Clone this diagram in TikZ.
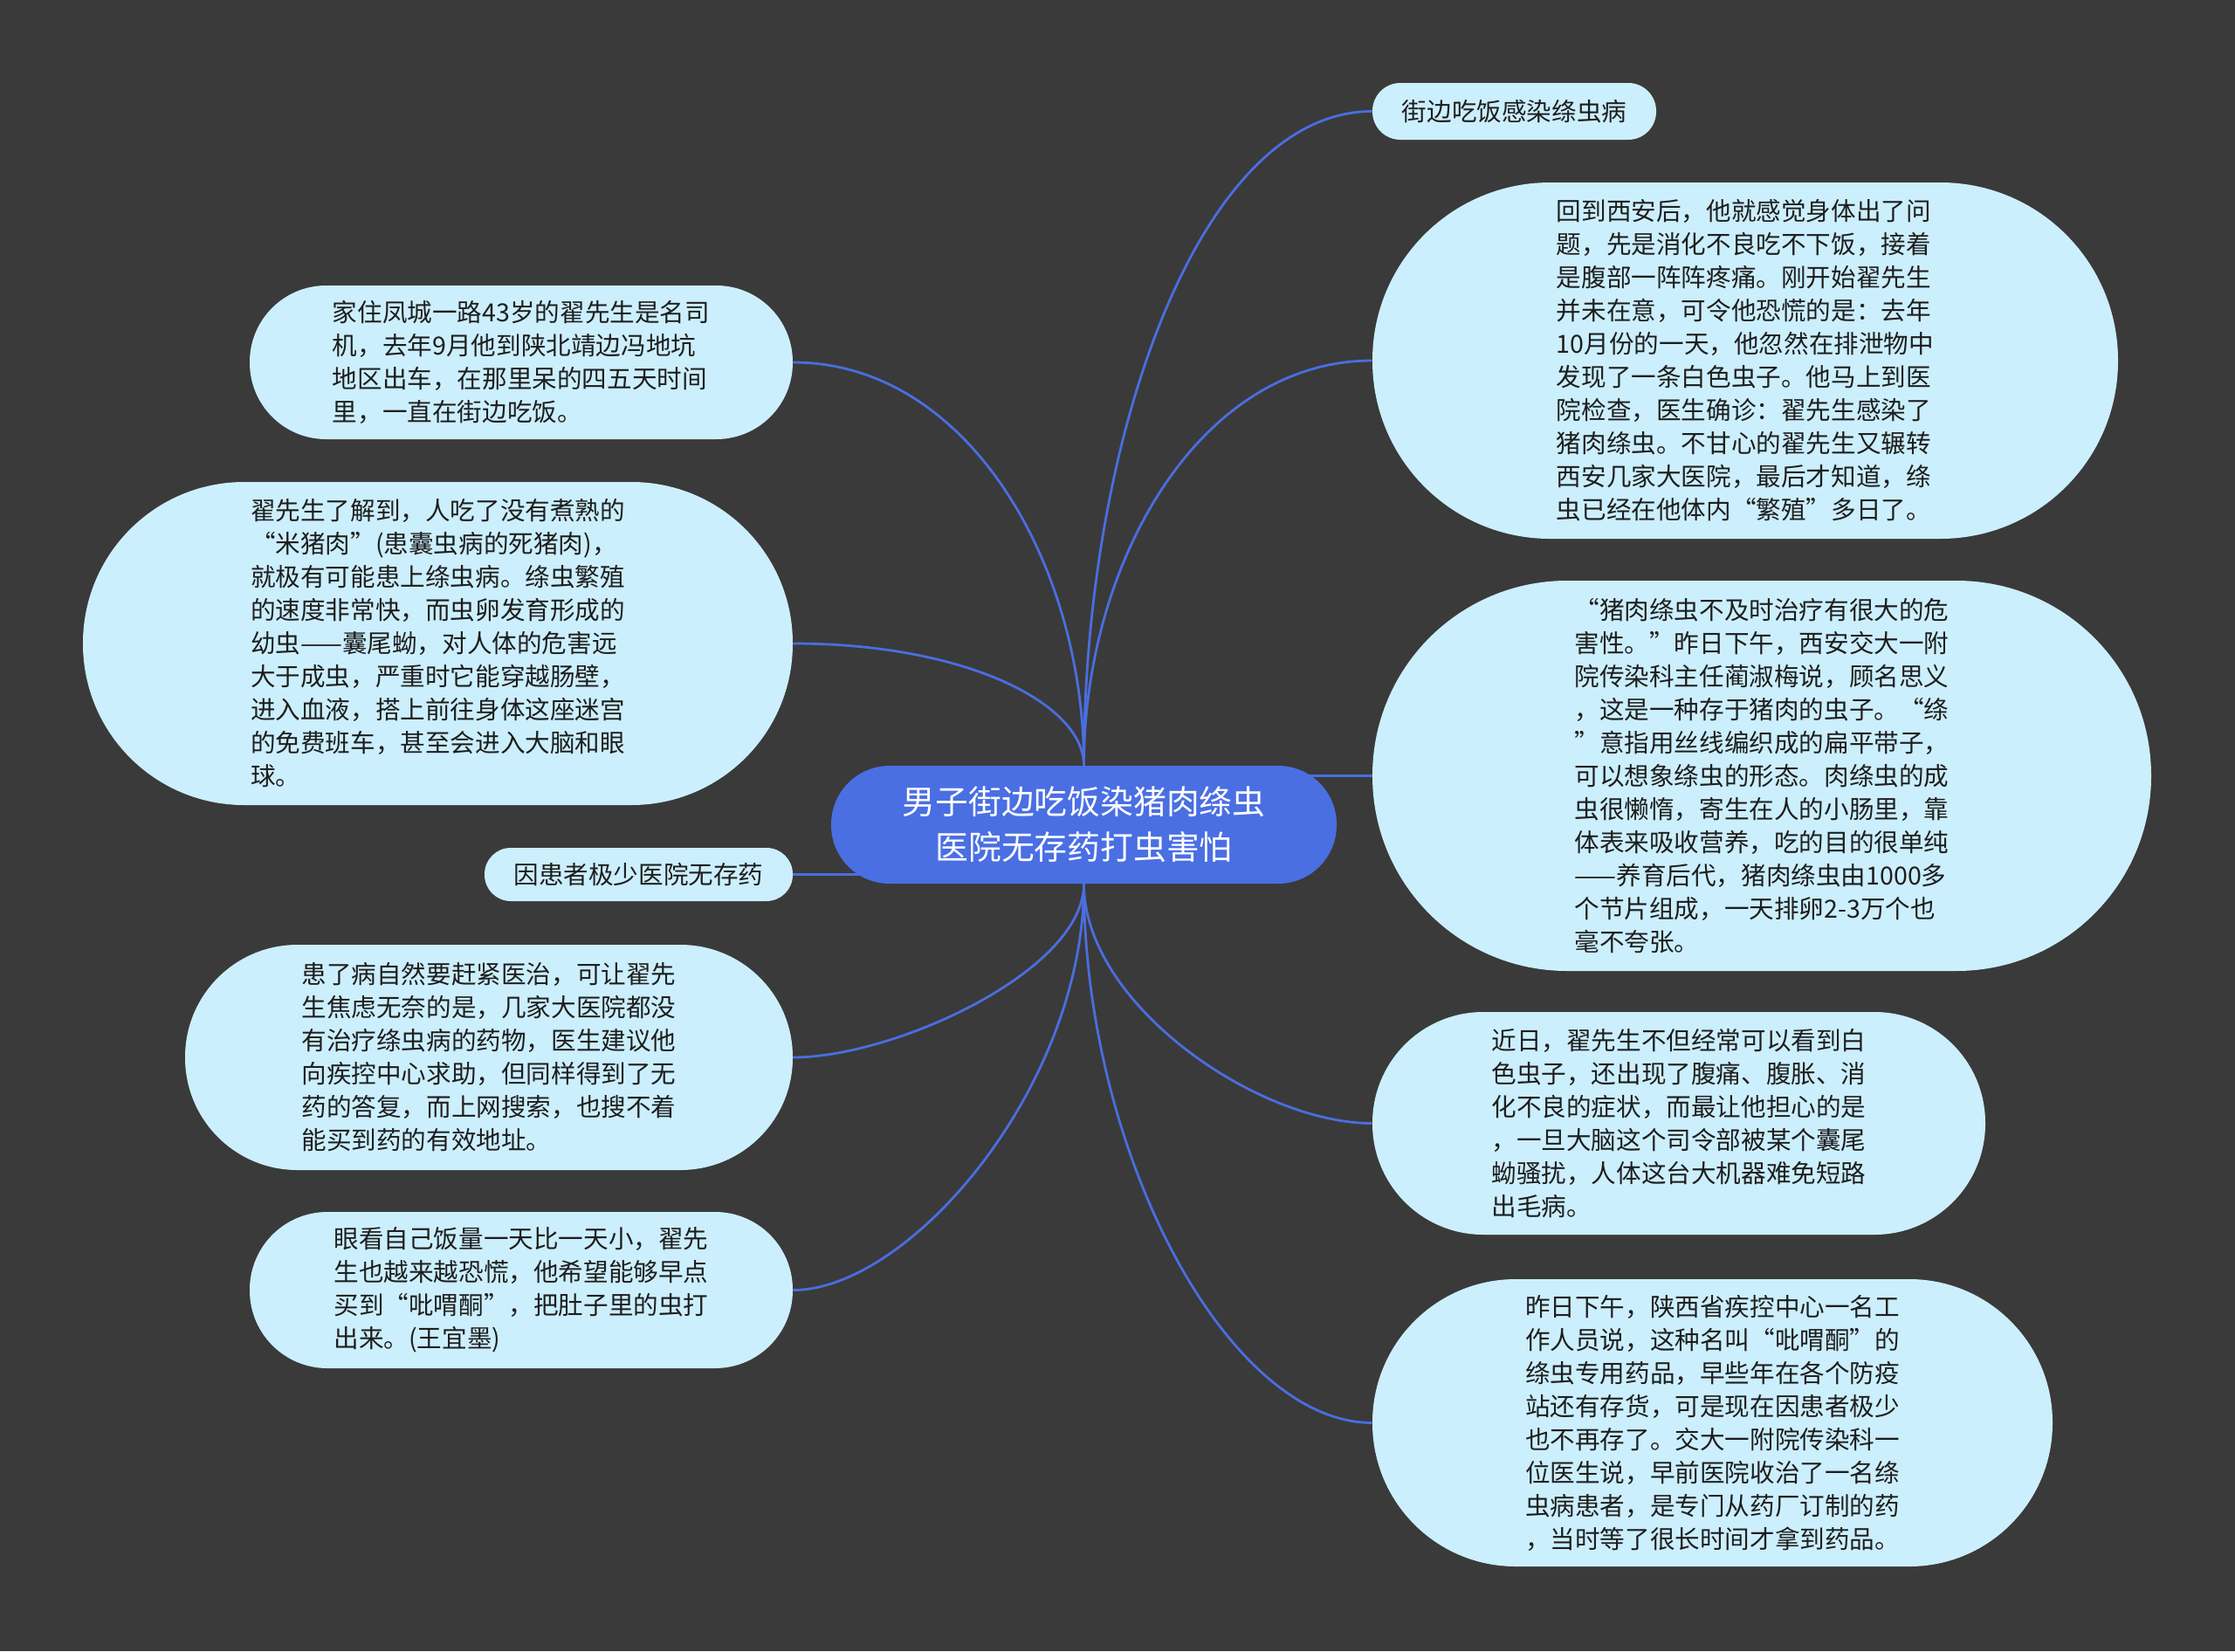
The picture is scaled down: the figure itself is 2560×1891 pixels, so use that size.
\documentclass[tikz,border=0pt]{standalone}
\usepackage{fontspec}
\setmainfont{Noto Sans CJK SC}
\usetikzlibrary{calc,backgrounds}
\definecolor{bgc}{HTML}{3A3A3A}
\definecolor{edgec}{HTML}{4A6EE0}
\definecolor{mainc}{HTML}{4A6FE3}
\definecolor{leafc}{HTML}{CCEFFD}
\definecolor{inkc}{HTML}{1E1E1E}
\begin{document}
\begin{tikzpicture}[x=0.5pt,y=-0.5pt,
  leafbox/.style={fill=leafc, text=inkc, align=left, inner sep=0pt,
    font=\fontsize{14.3pt}{19pt}\selectfont},
  rootbox/.style={fill=mainc, text=white, align=center, inner sep=0pt,
    font=\fontsize{18.9pt}{26pt}\selectfont},
  pill/.style n args={3}{minimum width=#1, minimum height=#2, rounded corners=#3},
  link/.style={draw=edgec, line width=1.4pt},
  branch/.style 2 args={to path={.. controls ($(\tikztostart)!#1!(\tikztostart|-\tikztotarget)$) and ($(\tikztotarget)!#2!(\tikztostart|-\tikztotarget)$) .. (\tikztotarget)}}
]
\useasboundingbox (0,0) rectangle (2560,1891);

% central topic
\node[rootbox, pill={289.5pt}{67.5pt}{33.5pt}] (c) at (1241.5,944.5)
  {男子街边吃饭染猪肉绦虫\\医院无存药打虫害怕};

% right side
\node[leafbox, pill={162.5pt}{32.5pt}{16pt}] (r0) at (1734.5,127.5) {街边吃饭感染绦虫病};
\node[leafbox, pill={427pt}{204pt}{101.7pt}] (r1) at (1999,413)
  {回到西安后，他就感觉身体出了问\\题，先是消化不良吃不下饭，接着\\是腹部一阵阵疼痛。刚开始翟先生\\并未在意，可令他恐慌的是：去年\\10月份的一天，他忽然在排泄物中\\发现了一条白色虫子。他马上到医\\院检查，医生确诊：翟先生感染了\\猪肉绦虫。不甘心的翟先生又辗转\\西安几家大医院，最后才知道，绦\\虫已经在他体内“繁殖”多日了。};
\node[leafbox, pill={446pt}{223.5pt}{111.5pt}] (r2) at (2018,888.5)
  {“猪肉绦虫不及时治疗有很大的危\\害性。”昨日下午，西安交大一附\\院传染科主任蔺淑梅说，顾名思义\\，这是一种存于猪肉的虫子。“绦\\”意指用丝线编织成的扁平带子，\\可以想象绦虫的形态。肉绦虫的成\\虫很懒惰，寄生在人的小肠里，靠\\体表来吸收营养，吃的目的很单纯\\——养育后代，猪肉绦虫由1000多\\个节片组成，一天排卵2-3万个也\\毫不夸张。};
\node[leafbox, pill={351pt}{127.5pt}{63.5pt}] (r3) at (1923,1286.5)
  {近日，翟先生不但经常可以看到白\\色虫子，还出现了腹痛、腹胀、消\\化不良的症状，而最让他担心的是\\，一旦大脑这个司令部被某个囊尾\\蚴骚扰，人体这台大机器难免短路\\出毛病。};
\node[leafbox, pill={389.5pt}{164.5pt}{82pt}] (r4) at (1961.5,1629.5)
  {昨日下午，陕西省疾控中心一名工\\作人员说，这种名叫“吡喟酮”的\\绦虫专用药品，早些年在各个防疫\\站还有存货，可是现在因患者极少\\也不再存了。交大一附院传染科一\\位医生说，早前医院收治了一名绦\\虫病患者，是专门从药厂订制的药\\，当时等了很长时间才拿到药品。};

% left side
\node[leafbox, pill={311pt}{88pt}{43.8pt}] (l1) at (597,415)
  {家住凤城一路43岁的翟先生是名司\\机，去年9月他到陕北靖边冯地坑\\地区出车，在那里呆的四五天时间\\里，一直在街边吃饭。};
\node[leafbox, pill={406.5pt}{185pt}{92.3pt}] (l2) at (501.5,737)
  {翟先生了解到，人吃了没有煮熟的\\“米猪肉”(患囊虫病的死猪肉)，\\就极有可能患上绦虫病。绦虫繁殖\\的速度非常快，而虫卵发育形成的\\幼虫——囊尾蚴，对人体的危害远\\大于成虫，严重时它能穿越肠壁，\\进入血液，搭上前往身体这座迷宫\\的免费班车，甚至会进入大脑和眼\\球。};
\node[leafbox, pill={176.5pt}{30.5pt}{15pt}] (l3) at (731.5,1001.5) {因患者极少医院无存药};
\node[leafbox, pill={348pt}{129pt}{64.3pt}] (l4) at (560,1211)
  {患了病自然要赶紧医治，可让翟先\\生焦虑无奈的是，几家大医院都没\\有治疗绦虫病的药物，医生建议他\\向疾控中心求助，但同样得到了无\\药的答复，而上网搜索，也搜不着\\能买到药的有效地址。};
\node[leafbox, pill={311pt}{89.5pt}{44.5pt}] (l5) at (597,1477.5)
  {眼看自己饭量一天比一天小，翟先\\生也越来越恐慌，他希望能够早点\\买到“吡喟酮”，把肚子里的虫打\\出来。(王宜墨)};

\begin{scope}[on background layer]
  \fill[bgc] (0,0) rectangle (2560,1891);
  \draw[link] (c.north) to[branch={0.5}{0.6}] (r0.west);
  \draw[link] (c.north) to[branch={0.5}{0.6}] (r1.west);
  \draw[link] (c.north) to[branch={0.5}{0.6}] (l1.east);
  \draw[link] (c.north) to[branch={0.5}{0.6}] (l2.east);
  \draw[link] (c.south) to[branch={0.5}{0.4}] (r3.west);
  \draw[link] (c.south) to[branch={0.5}{0.5}] (r4.west);
  \draw[link] (c.south) to[branch={0.5}{0.35}] (l4.east);
  \draw[link] (c.south) to[branch={0.5}{0.4}] (l5.east);
  \draw[link] (c.center |- r2.west) -- (r2.west);
  \draw[link] (c.center |- l3.east) -- (l3.east);
\end{scope}
\end{tikzpicture}
\end{document}
